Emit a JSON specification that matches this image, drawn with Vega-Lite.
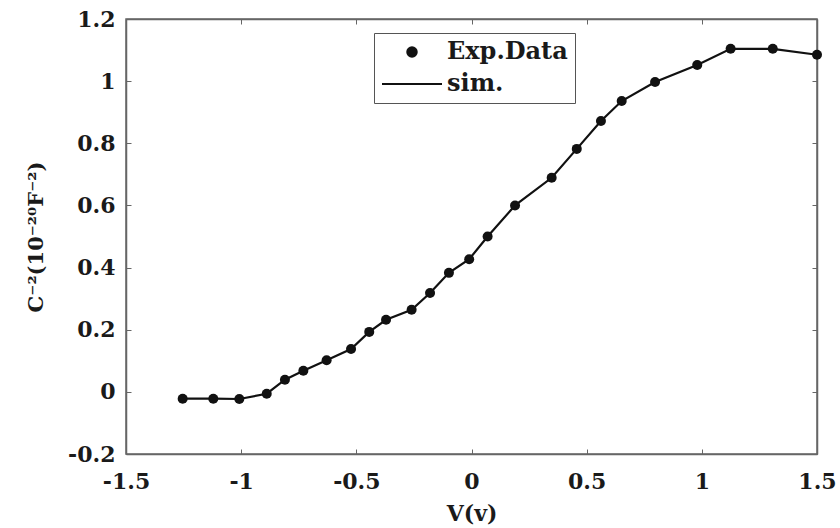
{
  "$schema": "https://vega.github.io/schema/vega-lite/v6.json",
  "autosize": "none",
  "width": 691,
  "height": 435,
  "padding": {"left": 126, "top": 19, "right": 23, "bottom": 74},
  "background": "white",
  "config": {
    "view": {"stroke": "#666666", "strokeWidth": 1.5},
    "font": "DejaVu Serif",
    "axis": {
      "grid": false,
      "domainColor": "#666666",
      "domainWidth": 1.5,
      "tickColor": "#666666",
      "tickSize": -5,
      "labelFlush": false,
      "labelOverlap": false,
      "labelFont": "DejaVu Serif",
      "labelFontWeight": "bold",
      "labelFontSize": 22,
      "labelColor": "#1a1a1a",
      "titleFont": "DejaVu Serif",
      "titleFontWeight": "bold",
      "titleFontSize": 22,
      "titleColor": "#1a1a1a"
    }
  },
  "data": {
    "values": [
      {"V": -1.254, "C": -0.022, "series": "Exp.Data"},
      {"V": -1.121, "C": -0.022, "series": "Exp.Data"},
      {"V": -1.008, "C": -0.023, "series": "Exp.Data"},
      {"V": -0.889, "C": -0.006, "series": "Exp.Data"},
      {"V": -0.810, "C": 0.039, "series": "Exp.Data"},
      {"V": -0.730, "C": 0.068, "series": "Exp.Data"},
      {"V": -0.629, "C": 0.102, "series": "Exp.Data"},
      {"V": -0.523, "C": 0.138, "series": "Exp.Data"},
      {"V": -0.444, "C": 0.193, "series": "Exp.Data"},
      {"V": -0.371, "C": 0.232, "series": "Exp.Data"},
      {"V": -0.260, "C": 0.264, "series": "Exp.Data"},
      {"V": -0.180, "C": 0.318, "series": "Exp.Data"},
      {"V": -0.098, "C": 0.383, "series": "Exp.Data"},
      {"V": -0.010, "C": 0.427, "series": "Exp.Data"},
      {"V": 0.070, "C": 0.500, "series": "Exp.Data"},
      {"V": 0.189, "C": 0.600, "series": "Exp.Data"},
      {"V": 0.348, "C": 0.689, "series": "Exp.Data"},
      {"V": 0.457, "C": 0.782, "series": "Exp.Data"},
      {"V": 0.562, "C": 0.872, "series": "Exp.Data"},
      {"V": 0.652, "C": 0.936, "series": "Exp.Data"},
      {"V": 0.797, "C": 0.997, "series": "Exp.Data"},
      {"V": 0.980, "C": 1.052, "series": "Exp.Data"},
      {"V": 1.125, "C": 1.104, "series": "Exp.Data"},
      {"V": 1.308, "C": 1.104, "series": "Exp.Data"},
      {"V": 1.500, "C": 1.085, "series": "Exp.Data"}
    ]
  },
  "encoding": {
    "x": {
      "field": "V",
      "type": "quantitative",
      "scale": {"domain": [-1.5, 1.5], "nice": false, "zero": false}
    },
    "y": {
      "field": "C",
      "type": "quantitative",
      "scale": {"domain": [-0.2, 1.2], "nice": false, "zero": false}
    }
  },
  "layer": [
    {
      "mark": {"type": "line", "color": "#111111", "strokeWidth": 2.2},
      "encoding": {
        "x": {
          "field": "V",
          "type": "quantitative",
          "axis": {
            "orient": "bottom",
            "values": [-1.5, -1, -0.5, 0, 0.5, 1, 1.5],
            "labelExpr": "toString(datum.value)",
            "labelPadding": 22,
            "title": "V(v)",
            "titlePadding": 11
          }
        },
        "y": {
          "field": "C",
          "type": "quantitative",
          "axis": {
            "orient": "left",
            "values": [-0.2, 0, 0.2, 0.4, 0.6, 0.8, 1, 1.2],
            "labelExpr": "toString(datum.value)",
            "labelPadding": 16,
            "title": "C⁻²(10⁻²⁰F⁻²)",
            "titleFontSize": 21,
            "titlePadding": 21
          }
        }
      }
    },
    {
      "mark": {"type": "point", "filled": true, "opacity": 1, "size": 100, "color": "#111111"},
      "encoding": {
        "x": {
          "field": "V",
          "type": "quantitative",
          "axis": {
            "orient": "top",
            "values": [-1.5, -1, -0.5, 0, 0.5, 1, 1.5],
            "labels": false,
            "title": null
          }
        },
        "y": {
          "field": "C",
          "type": "quantitative",
          "axis": {
            "orient": "right",
            "values": [-0.2, 0, 0.2, 0.4, 0.6, 0.8, 1, 1.2],
            "labels": false,
            "title": null
          }
        },
        "shape": {
          "field": "series",
          "type": "nominal",
          "scale": {"domain": ["Exp.Data", "sim."], "range": ["circle", "stroke"]},
          "legend": {
            "title": null,
            "orient": "none",
            "legendX": 248,
            "legendY": 14,
            "direction": "vertical",
            "fillColor": "white",
            "strokeColor": "#555555",
            "padding": 7,
            "rowPadding": 8,
            "symbolSize": 3600,
            "symbolOffset": 19,
            "symbolStrokeWidth": 2,
            "symbolStrokeColor": "#111111",
            "symbolFillColor": "#111111",
            "labelFont": "DejaVu Serif",
            "labelFontWeight": "bold",
            "labelFontSize": 24,
            "labelColor": "#1a1a1a",
            "labelOffset": 23,
            "encoding": {
              "symbols": {
                "size": {"value": {"signal": "datum.value === 'sim.' ? 3600 : 90"}},
                "stroke": {"value": "#111111"},
                "strokeWidth": {"value": 2},
                "fill": {"value": "#111111"}
              }
            }
          }
        }
      }
    }
  ],
  "resolve": {"axis": {"x": "independent", "y": "independent"}}
}
